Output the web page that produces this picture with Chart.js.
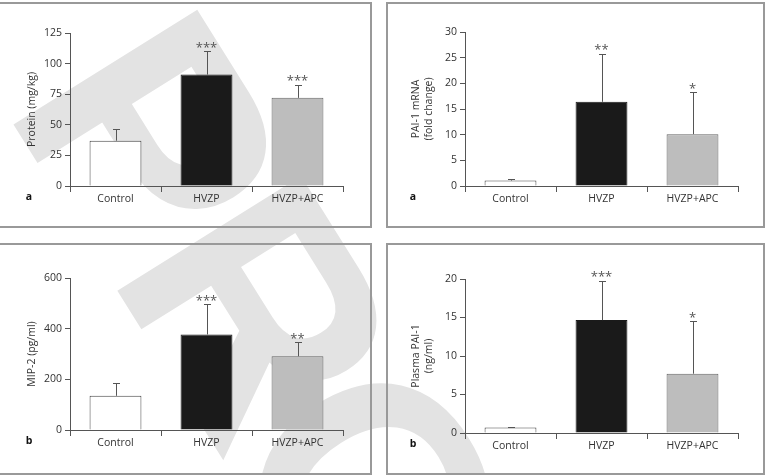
<!DOCTYPE html>
<html>
<head>
<meta charset="utf-8">
<script src="https://cdn.jsdelivr.net/npm/chart.js@4"></script>
<style>
  html, body { margin: 0; padding: 0; background: #fff; }
  body { width: 768px; height: 475px; position: relative; overflow: hidden; }
  #wm { position: absolute; left: 0; top: 0; }
  .box { position: absolute; border: 2px solid #999; box-sizing: border-box; }
  .cv { position: absolute; }
</style>
</head>
<body>
<canvas id="wm" width="768" height="475"></canvas>
<div class="box" style="left:-3px;top:2px;width:375px;height:226px"></div>
<div class="box" style="left:386px;top:2px;width:379px;height:226px"></div>
<div class="box" style="left:-3px;top:243px;width:375px;height:232px"></div>
<div class="box" style="left:386px;top:243px;width:379px;height:232px"></div>
<div class="cv" style="left:0;top:0;width:384px;height:237px"><canvas id="c1"></canvas></div>
<div class="cv" style="left:384px;top:0;width:384px;height:237px"><canvas id="c2"></canvas></div>
<div class="cv" style="left:0;top:237px;width:384px;height:238px"><canvas id="c3"></canvas></div>
<div class="cv" style="left:384px;top:237px;width:384px;height:238px"><canvas id="c4"></canvas></div>
<script>
const categories = ["Control", "HVZP", "HVZP+APC"]

// top left: protein
const proteinMean = [37, 91, 72]
const proteinErr = [9.3, 19, 10.7]
const proteinStars = ["", "***", "***"]

// top right: PAI-1 mRNA
const mrnaMean = [1.05, 16.4, 10.1]
const mrnaErr = [0.3, 9.4, 8.2]
const mrnaStars = ["", "**", "*"]

// bottom left: MIP-2
const mipMean = [135, 377, 291]
const mipErr = [52, 121, 57]
const mipStars = ["", "***", "**"]

// bottom right: plasma PAI-1
const plasmaMean = [0.7, 14.66, 7.7]
const plasmaErr = [0.13, 5.14, 6.8]
const plasmaStars = ["", "***", "*"]

const barFill = ["#ffffff", "#1a1a1a", "#bdbdbd"]
const barEdge = ["#444444", "#1a1a1a", "#666666"]
const axisColor = "#555"
const textColor = "#333"
const fontFam = "'Open Sans', 'Noto Sans', sans-serif"

// watermark behind the panels, letters set one by one along one baseline
const wm = document.getElementById("wm").getContext("2d")
wm.save()
wm.translate(2.3, 106.7)
wm.rotate(58 * Math.PI / 180)
wm.fillStyle = "#e3e3e3"
wm.font = "bold 315px 'Liberation Sans'"
wm.fillText("P", 0, 0)
wm.fillText("R", 196, 0)
wm.fillText("OOF", 406, 0)
wm.restore()

const extras = {
    id: "extras",
    afterDatasetsDraw(chart) {
        const c = chart.ctx
        const o = chart.options.plugins.extras
        const y = chart.scales.y
        const meta = chart.getDatasetMeta(0)
        c.save()
        c.strokeStyle = "#555"
        c.lineWidth = 1
        meta.data.forEach((bar, i) => {
            const mean = o.mean[i]
            const top = y.getPixelForValue(mean + o.err[i])
            const base = y.getPixelForValue(mean)
            const x = Math.round(bar.x) + 0.5
            c.beginPath()
            c.moveTo(x, base)
            c.lineTo(x, Math.round(top) + 0.5)
            c.moveTo(x - 3.5, Math.round(top) + 0.5)
            c.lineTo(x + 3.5, Math.round(top) + 0.5)
            c.stroke()
            if (o.stars[i]) {
                c.fillStyle = "#555"
                c.font = "13px " + fontFam
                c.textAlign = "center"
                c.textBaseline = "middle"
                c.fillText(o.stars[i], bar.x, top - 3)
            }
        })
        // panel letter
        c.fillStyle = "#111"
        c.font = "bold 10.5px " + fontFam
        c.textAlign = "center"
        c.textBaseline = "middle"
        c.fillText(o.letter, 29, chart.chartArea.bottom + 11)
        c.restore()
    }
}

const makeChart = (id, mean, err, stars, letter, title, max, step, box) => {
    return new Chart(document.getElementById(id), {
        type: "bar",
        data: {
            labels: categories,
            datasets: [{
                data: mean,
                backgroundColor: barFill,
                borderColor: barEdge,
                borderWidth: 1,
                categoryPercentage: 1,
                barPercentage: 0.57
            }]
        },
        options: {
            responsive: true,
            maintainAspectRatio: false,
            animation: false,
            events: [],
            layout: { padding: { left: 0, top: box.top, right: box.right, bottom: 0 } },
            plugins: {
                legend: { display: false },
                tooltip: { enabled: false },
                extras: { mean: mean, err: err, stars: stars, letter: letter }
            },
            scales: {
                x: {
                    offset: true,
                    grid: { offset: true, drawOnChartArea: false, color: axisColor, tickLength: 6 },
                    border: { color: axisColor, width: 1 },
                    ticks: { color: textColor, font: { family: fontFam, size: 10.5 }, padding: 1, maxRotation: 0 },
                    afterFit: s => { s.height = box.xh }
                },
                y: {
                    min: 0,
                    max: max,
                    grid: { drawOnChartArea: false, color: axisColor, tickLength: 5 },
                    border: { color: axisColor, width: 1 },
                    ticks: { stepSize: step, color: textColor, font: { family: fontFam, size: 10.5 }, padding: 3 },
                    title: {
                        display: true,
                        text: title,
                        color: textColor,
                        font: { family: fontFam, size: 10.5, lineHeight: 1.25 },
                        padding: { top: 25, bottom: 0 }
                    },
                    afterFit: s => { s.width = box.left }
                }
            }
        },
        plugins: [extras]
    })
}

makeChart("c1", proteinMean, proteinErr, proteinStars, "a", "Protein (mg/kg)", 125, 25,
    { left: 70, right: 41, top: 33, xh: 51 })
makeChart("c2", mrnaMean, mrnaErr, mrnaStars, "a", ["PAI-1 mRNA", "(fold change)"], 30, 5,
    { left: 81, right: 30, top: 32, xh: 51 })
makeChart("c3", mipMean, mipErr, mipStars, "b", "MIP-2 (pg/ml)", 600, 200,
    { left: 70, right: 41, top: 41, xh: 45 })
makeChart("c4", plasmaMean, plasmaErr, plasmaStars, "b", ["Plasma PAI-1", "(ng/ml)"], 20, 5,
    { left: 81, right: 30, top: 42, xh: 42 })
</script>
</body>
</html>
